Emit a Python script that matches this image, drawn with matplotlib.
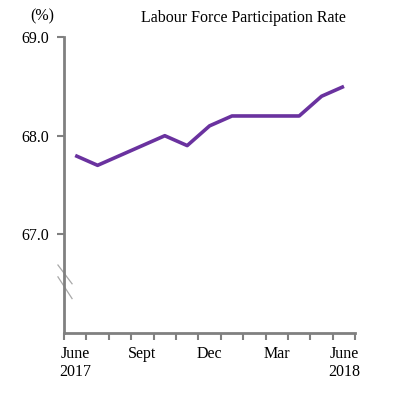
import numpy as np
import matplotlib.pyplot as plt

months = ["June\n2017", "", "", "Sept", "", "", "Dec", "", "", "Mar", "", "", "June\n2018"]
rate = [67.8, 67.7, 67.8, 67.9, 68.0, 67.9, 68.1, 68.2, 68.2, 68.2, 68.2, 68.4, 68.5]
yticks = [67.0, 68.0, 69.0]

plt.rcParams['font.family'] = ['Liberation Serif', 'DejaVu Serif']
plt.rcParams['font.size'] = 11.5

fig = plt.figure(figsize=(4.05, 3.98), dpi=100)
ax = fig.add_axes([0.158, 0.163, 0.719, 0.744])

x = np.arange(len(rate))
ax.plot(x, rate, color='#6a329f', lw=2.6, solid_capstyle='butt')

ax.set_xlim(-0.5, len(rate) - 0.5)
ax.set_ylim(66.0, 69.0)
ax.set_yticks(yticks)
ax.set_yticklabels([f"{v:.1f}" for v in yticks])
ax.set_xticks(np.arange(len(rate) + 1) - 0.5)
ax.set_xticklabels([])
ax.set_xticks(x, minor=True)
ax.set_xticklabels(months, minor=True, linespacing=1.2)
ax.tick_params(axis='x', which='minor', length=0, pad=9)
ax.tick_params(axis='x', which='major', length=5, width=1.5, color='#808080', direction='out')
ax.tick_params(axis='y', length=5, width=1.5, color='#808080', direction='out', pad=6)

for s in ['top', 'right']:
    ax.spines[s].set_visible(False)
for s in ['left', 'bottom']:
    ax.spines[s].set_color('#808080')
    ax.spines[s].set_linewidth(2)

# axis break marks
ax.plot([-0.77, -0.14], [66.69, 66.5], color='#a8a8a8', lw=0.9, clip_on=False)
ax.plot([-0.77, -0.14], [66.57, 66.35], color='#a8a8a8', lw=0.9, clip_on=False)

fig.text(0.074, 0.96, "(%)", ha='left', va='center')
fig.text(0.601, 0.955, "Labour Force Participation Rate", ha='center', va='center')

fig.savefig("out.png", dpi=100)
